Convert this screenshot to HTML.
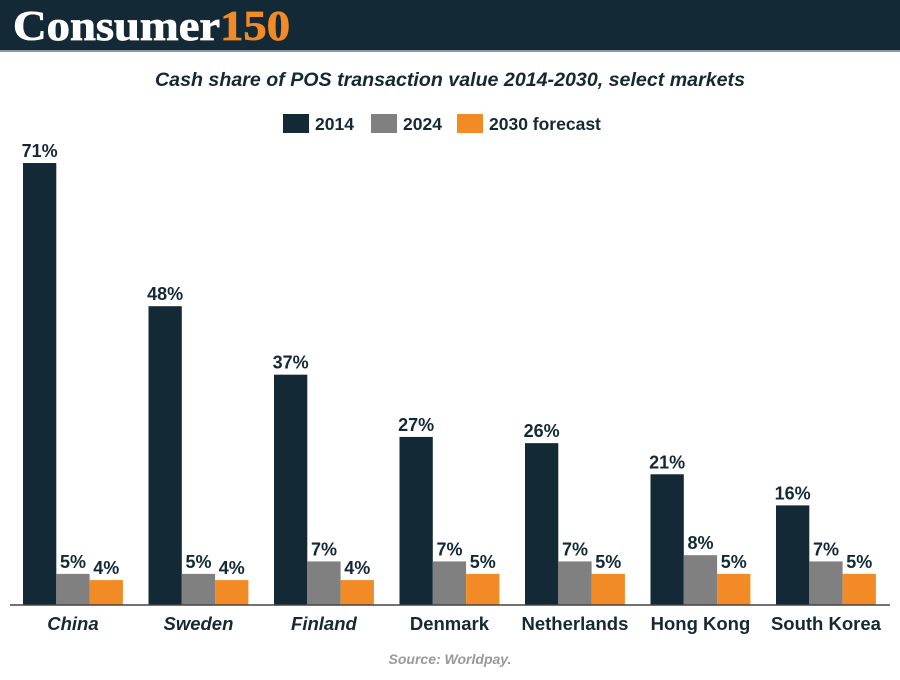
<!DOCTYPE html>
<html><head><meta charset="utf-8"><style>
body{margin:0;width:900px;height:675px;background:#fff;overflow:hidden;font-family:"Liberation Sans",sans-serif}
</style></head><body>
<svg width="900" height="675" xmlns="http://www.w3.org/2000/svg">
<rect x="0" y="0" width="900" height="50" fill="#132a36"/>
<rect x="0" y="50" width="900" height="2" fill="#8a9aa3"/>
<text x="13" y="40" font-family="Liberation Serif" font-weight="bold" font-size="42" fill="#fff" textLength="277" lengthAdjust="spacingAndGlyphs" stroke="#fff" stroke-width="0.8">Consumer<tspan fill="#f28a25" stroke="#f28a25">150</tspan></text>
<text x="450" y="86" text-anchor="middle" font-size="19" font-weight="bold" font-style="italic" fill="#132a36" textLength="590" lengthAdjust="spacingAndGlyphs">Cash share of POS transaction value 2014-2030, select markets</text>
<g id="legend"></g>
<g id="bars"></g>
<line x1="10" y1="605" x2="890" y2="605" stroke="#444" stroke-width="1.5"/>
<text x="450" y="664" text-anchor="middle" font-size="14" font-weight="bold" font-style="italic" fill="#999">Source: Worldpay.</text>
</svg>
<script>
const categories=["China","Sweden","Finland","Denmark","Netherlands","Hong Kong","South Korea"];
const italicCats=[true,true,true,false,false,false,false];
const s2014=[71,48,37,27,26,21,16];
const s2024=[5,5,7,7,7,8,7];
const s2030=[4,4,4,5,5,5,5];
const seriesNames=["2014","2024","2030 forecast"];
const colors=["#132a36","#808080","#f28a25"];
const NS="http://www.w3.org/2000/svg";
const base=605,pxPer=6.225,g0=23,gw=125.5,bw=33.3;
const y=v=>base-v*pxPer;
const bars=document.getElementById('bars');
function mk(t,a,p){const e=document.createElementNS(NS,t);for(const k in a)e.setAttribute(k,a[k]);p.appendChild(e);return e;}
const series=[s2014,s2024,s2030];
categories.forEach((c,i)=>{
  series.forEach((s,j)=>{
    const x=g0+i*gw+j*bw;
    const r=mk('rect',{x:x,y:y(s[i]),width:bw,height:s[i]*pxPer,fill:colors[j]},bars);
    
    
    const t=mk('text',{x:x+bw/2,y:y(s[i])-6,'text-anchor':'middle','font-size':18,'font-weight':'bold',fill:'#132a36'},bars);
    t.textContent=s[i]+'%';
    
    
  });
  const l=mk('text',{x:g0+i*gw+bw*1.5,y:630,'text-anchor':'middle','font-size':18.5,'font-weight':'bold','font-style':italicCats[i]?'italic':'normal',fill:'#132a36'},bars);
  l.textContent=c;
  
  
});
const lg=document.getElementById('legend');
const lx=[283,371,457];
seriesNames.forEach((n,j)=>{
  const r=mk('rect',{x:lx[j],y:114,width:26,height:19,fill:colors[j]},lg);
  
  
  const t=mk('text',{x:lx[j]+32,y:130,'font-size':17.5,'font-weight':'bold',fill:'#132a36'},lg);
  t.textContent=n;
  
  
});
</script>
</body></html>
